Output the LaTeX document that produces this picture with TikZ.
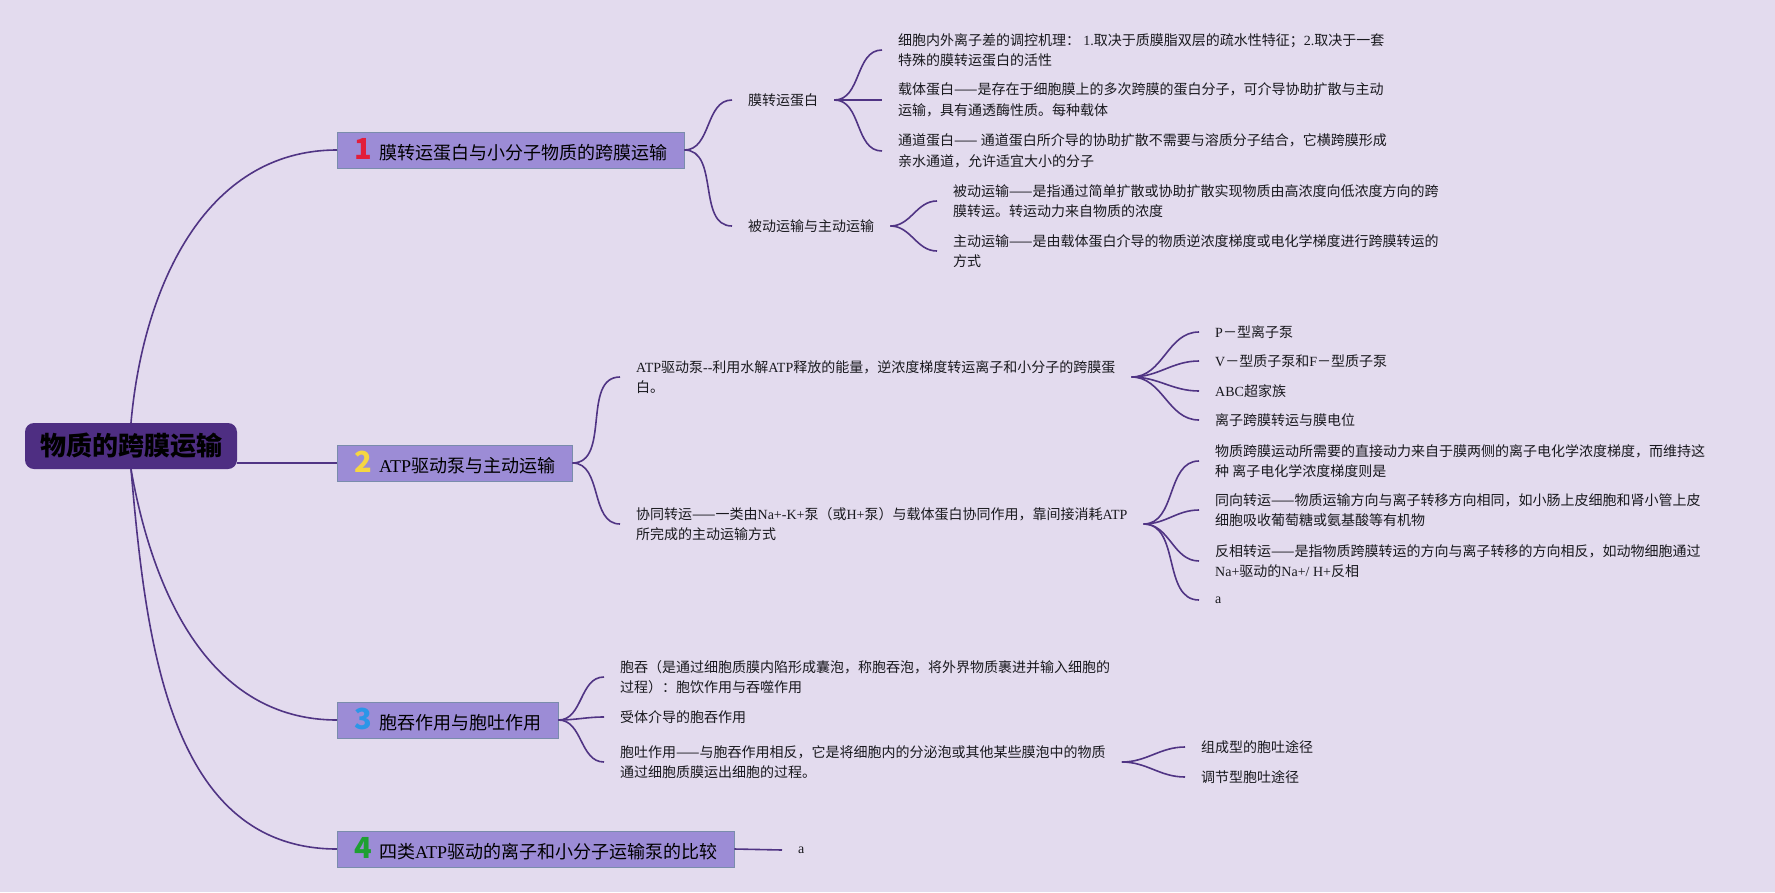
\documentclass[tikz,border=0pt]{standalone}
\usepackage{fontspec}
\setmainfont{Noto Sans CJK SC}
\newfontfamily\tms{Liberation Serif}
\definecolor{bgc}{RGB}{227,219,238}
\definecolor{linec}{RGB}{80,52,132}
\definecolor{rootc}{RGB}{78,46,130}
\definecolor{boxfill}{RGB}{156,140,214}
\definecolor{boxline}{RGB}{122,140,172}
\definecolor{txtc}{RGB}{25,25,30}
\definecolor{numred}{RGB}{226,30,58}
\definecolor{numyel}{RGB}{246,214,66}
\definecolor{numblu}{RGB}{44,150,232}
\definecolor{numgrn}{RGB}{30,160,50}
\newcommand{\topicnum}[2]{{\fontsize{29}{29}\selectfont\bfseries\color{#1}#2}\hspace{7pt}}
\tikzset{
    link/.style={draw=linec, line width=1.6pt},
    leaf/.style={anchor=west, inner xsep=16pt, inner ysep=2pt, align=left, text=txtc,
        font=\fontsize{14}{20.5}\selectfont},
    topic/.style={anchor=west, draw=boxline, line width=0.8pt, fill=boxfill, minimum height=36pt,
        inner xsep=17pt, text=black, font=\fontsize{18}{22}\selectfont},
    rootbox/.style={fill=rootc, rounded corners=9pt, minimum width=212pt, minimum height=46pt,
        text=black, font=\fontsize{26}{30}\selectfont\bfseries}
}
\begin{document}
\begin{tikzpicture}[x=1pt,y=-1pt]
    \fill[bgc] (0,0) rectangle (1775,892);
    \useasboundingbox (0,0) rectangle (1775,892);

    \node[rootbox] (root) at (131,446) {物质的跨膜运输};

    \node[topic] (t1) at (337,150) {\topicnum{numred}{1}膜转运蛋白与小分子物质的跨膜运输};
    \node[topic] (t2) at (337,463) {\topicnum{numyel}{2}{\tms ATP}驱动泵与主动运输};
    \node[topic] (t3) at (337,720) {\topicnum{numblu}{3}胞吞作用与胞吐作用};
    \node[topic] (t4) at (337,849) {\topicnum{numgrn}{4}四类{\tms ATP}驱动的离子和小分子运输泵的比较};

    \node[leaf] (a1) at (732,100) {膜转运蛋白};
    \node[leaf] (a2) at (732,226) {被动运输与主动运输};
    \node[leaf] (a11) at (882,50) {细胞内外离子差的调控机理： {\tms 1.}取决于质膜脂双层的疏水性特征；{\tms 2.}取决于一套\\特殊的膜转运蛋白的活性};
    \node[leaf] (a12) at (882,100) {载体蛋白——是存在于细胞膜上的多次跨膜的蛋白分子，可介导协助扩散与主动\\运输，具有通透酶性质。每种载体};
    \node[leaf] (a13) at (882,151) {通道蛋白—— 通道蛋白所介导的协助扩散不需要与溶质分子结合，它横跨膜形成\\亲水通道，允许适宜大小的分子};
    \node[leaf] (a21) at (937,201) {被动运输——是指通过简单扩散或协助扩散实现物质由高浓度向低浓度方向的跨\\膜转运。转运动力来自物质的浓度};
    \node[leaf] (a22) at (937,251) {主动运输——是由载体蛋白介导的物质逆浓度梯度或电化学梯度进行跨膜转运的\\方式};

    \node[leaf] (b1) at (620,377) {{\tms ATP}驱动泵{\tms -{}-}利用水解{\tms ATP}释放的能量，逆浓度梯度转运离子和小分子的跨膜蛋\\白。};
    \node[leaf] (b2) at (620,524) {协同转运——一类由{\tms Na+-K+}泵（或{\tms H+}泵）与载体蛋白协同作用，靠间接消耗{\tms ATP}\\所完成的主动运输方式};
    \node[leaf] (b11) at (1199,332) {{\tms P}－型离子泵};
    \node[leaf] (b12) at (1199,361) {{\tms V}－型质子泵和{\tms F}－型质子泵};
    \node[leaf] (b13) at (1199,391) {{\tms ABC}超家族};
    \node[leaf] (b14) at (1199,420) {离子跨膜转运与膜电位};
    \node[leaf] (b21) at (1199,461) {物质跨膜运动所需要的直接动力来自于膜两侧的离子电化学浓度梯度，而维持这\\种 离子电化学浓度梯度则是};
    \node[leaf] (b22) at (1199,510) {同向转运——物质运输方向与离子转移方向相同，如小肠上皮细胞和肾小管上皮\\细胞吸收葡萄糖或氨基酸等有机物};
    \node[leaf] (b23) at (1199,561) {反相转运——是指物质跨膜转运的方向与离子转移的方向相反，如动物细胞通过\\{\tms Na+}驱动的{\tms Na+/ H+}反相};
    \node[leaf] (b24) at (1199,600) {{\tms a}};

    \node[leaf] (c1) at (604,677) {胞吞（是通过细胞质膜内陷形成囊泡，称胞吞泡，将外界物质裹进并输入细胞的\\过程）：胞饮作用与吞噬作用};
    \node[leaf] (c2) at (604,717) {受体介导的胞吞作用};
    \node[leaf] (c3) at (604,762) {胞吐作用——与胞吞作用相反，它是将细胞内的分泌泡或其他某些膜泡中的物质\\通过细胞质膜运出细胞的过程。};
    \node[leaf] (c31) at (1185,747) {组成型的胞吐途径};
    \node[leaf] (c32) at (1185,777) {调节型胞吐途径};

    \node[leaf] (d1) at (782,850) {{\tms a}};

    \draw[link] (root.north) to[out=85,in=180] (t1.west);
    \draw[link] (root.east |- t2.west) -- (t2.west);
    \draw[link] (root.south) to[out=-80,in=180] (t3.west);
    \draw[link] (root.south) to[out=-85,in=180] (t4.west);

    \draw[link] (t1.east) to[out=0,in=180] (a1.west);
    \draw[link] (t1.east) to[out=0,in=180] (a2.west);
    \draw[link] (a1.east) to[out=0,in=180] (a11.west);
    \draw[link] (a1.east) to[out=0,in=180] (a12.west);
    \draw[link] (a1.east) to[out=0,in=180] (a13.west);
    \draw[link] (a2.east) to[out=0,in=180] (a21.west);
    \draw[link] (a2.east) to[out=0,in=180] (a22.west);

    \draw[link] (t2.east) to[out=0,in=180] (b1.west);
    \draw[link] (t2.east) to[out=0,in=180] (b2.west);
    \draw[link] (b1.east) to[out=0,in=180] (b11.west);
    \draw[link] (b1.east) to[out=0,in=180] (b12.west);
    \draw[link] (b1.east) to[out=0,in=180] (b13.west);
    \draw[link] (b1.east) to[out=0,in=180] (b14.west);
    \draw[link] (b2.east) to[out=0,in=180] (b21.west);
    \draw[link] (b2.east) to[out=0,in=180] (b22.west);
    \draw[link] (b2.east) to[out=0,in=180] (b23.west);
    \draw[link] (b2.east) to[out=0,in=180] (b24.west);

    \draw[link] (t3.east) to[out=0,in=180] (c1.west);
    \draw[link] (t3.east) to[out=0,in=180] (c2.west);
    \draw[link] (t3.east) to[out=0,in=180] (c3.west);
    \draw[link] (c3.east) to[out=0,in=180] (c31.west);
    \draw[link] (c3.east) to[out=0,in=180] (c32.west);

    \draw[link] (t4.east) -- (d1.west);
\end{tikzpicture}
\end{document}
